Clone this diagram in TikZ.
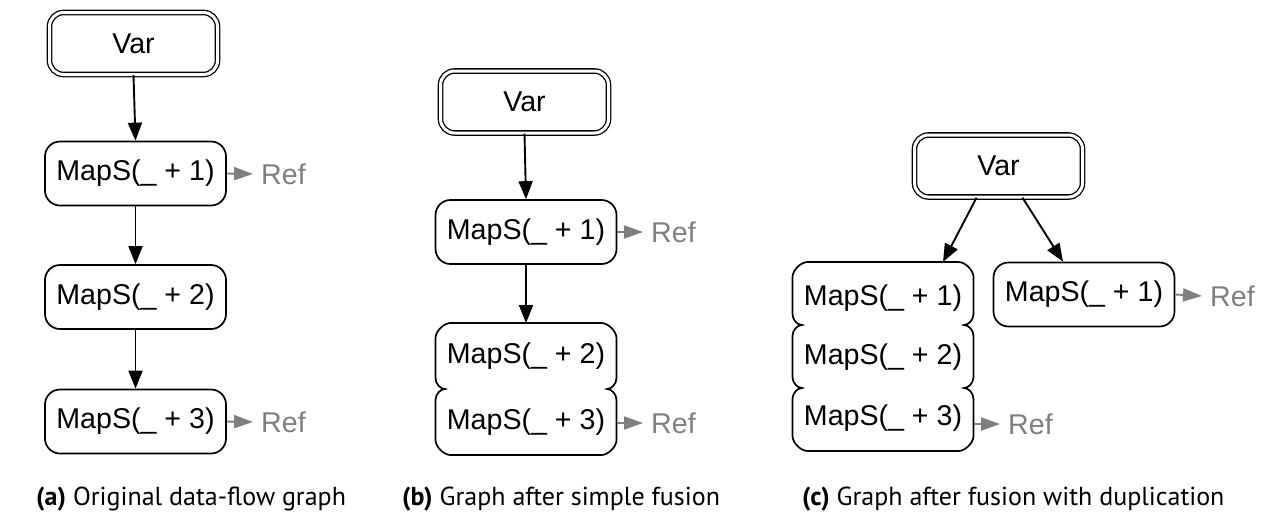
\documentclass[tikz,border=0pt]{standalone}
\usepackage{fontspec}
\setmainfont{Liberation Sans}
\newfontfamily\capfont{PT Sans}
\usetikzlibrary{arrows.meta}

\definecolor{refgray}{HTML}{7F7F7F}

\tikzset{
  nodefont/.style={font=\fontsize{28.6}{32}\selectfont},
  varbox/.style={nodefont, draw=black, double=white, double distance=3pt,
    line width=1.3pt, rounded corners=14pt, minimum width=168pt,
    minimum height=62pt, inner sep=0pt},
  mapbox/.style={nodefont, draw=black, line width=1.7pt, rounded corners=15pt,
    minimum width=181pt, minimum height=64pt, inner sep=0pt},
  maptext/.style={nodefont, inner sep=0pt},
  stackarea/.style={draw=none, inner sep=0pt, outer sep=0pt, minimum width=181pt},
  outline/.style={draw=black, line width=1.7pt},
  arr/.style={line width=1.9pt, -{Triangle[length=18pt,width=14pt]}},
  refarr/.style={draw=refgray, line width=1.9pt, -{Triangle[length=19pt,width=13pt]}},
  reftext/.style={nodefont, text=refgray, anchor=west, inner sep=0pt},
  caption/.style={font=\capfont\fontsize{26}{30}\selectfont, anchor=base west, inner sep=0pt}
}

\begin{document}
\begin{tikzpicture}[x=1pt, y=-1pt]
\useasboundingbox (0,0) rectangle (1268,515);

% ---------- (a) original data-flow graph ----------
\node[varbox] (va) at (133.5,43.5) {Var};
\node[mapbox] (a1) at (135.5,173.5) {MapS(\_ + 1)};
\node[mapbox] (a2) at (135.5,297) {MapS(\_ + 2)};
\node[mapbox] (a3) at (135.5,421.5) {MapS(\_ + 3)};
\draw[arr] (va.south) -- (a1.north);
\draw[arr] (a1.south) -- (a2.north);
\draw[arr] (a2.south) -- (a3.north);
\node[reftext] (ra1) at (261,174) {Ref};
\node[reftext] (ra3) at (261,422) {Ref};
\draw[refarr] (a1.east) -- ([xshift=-8pt]ra1.west);
\draw[refarr] (a3.east) -- ([xshift=-8pt]ra3.west);

% ---------- (b) after simple fusion ----------
\node[varbox] (vb) at (524.5,102) {Var};
\node[mapbox] (b1) at (526,232) {MapS(\_ + 1)};
% fused pair: one outline, notched where the two parts meet
\draw[outline]
  (450.5,323) -- (601.5,323)
  .. controls (608.2,323) and (616.5,331.3) .. (616.5,338)
  -- (616.5,378)
  .. controls (616.5,384) and (611.5,389) .. (607,389)
  .. controls (611.5,389) and (616.5,394) .. (616.5,400)
  -- (616.5,440)
  .. controls (616.5,446.7) and (608.2,455) .. (601.5,455)
  -- (450.5,455)
  .. controls (443.8,455) and (435.5,446.7) .. (435.5,440)
  -- (435.5,400)
  .. controls (435.5,394) and (440.5,389) .. (445,389)
  .. controls (440.5,389) and (435.5,384) .. (435.5,378)
  -- (435.5,338)
  .. controls (435.5,331.3) and (443.8,323) .. (450.5,323) -- cycle;
\node[stackarea, minimum height=132pt] (bs) at (526,389) {};
\node[maptext] (b2) at (526,356) {MapS(\_ + 2)};
\node[maptext] (b3) at (526,422) {MapS(\_ + 3)};
\draw[arr] (vb.south) -- (b1.north);
\draw[arr] (b1.south) -- (bs.north);
\node[reftext] (rb1) at (651,232) {Ref};
\node[reftext] (rb3) at (651,423) {Ref};
\draw[refarr] (b1.east) -- ([xshift=-8pt]rb1.west);
\draw[refarr] (616.5,423) -- ([xshift=-8pt]rb3.west);

% ---------- (c) after fusion with duplication ----------
\node[varbox] (vc) at (998.5,166) {Var};
\draw[outline]
  (807.5,262) -- (958.5,262)
  .. controls (965.2,262) and (973.5,270.3) .. (973.5,277)
  -- (973.5,314)
  .. controls (973.5,320) and (968.5,325) .. (964,325)
  .. controls (968.5,325) and (973.5,330) .. (973.5,336)
  -- (973.5,377)
  .. controls (973.5,383) and (968.5,388) .. (964,388)
  .. controls (968.5,388) and (973.5,393) .. (973.5,399)
  -- (973.5,436)
  .. controls (973.5,442.7) and (965.2,451) .. (958.5,451)
  -- (807.5,451)
  .. controls (800.8,451) and (792.5,442.7) .. (792.5,436)
  -- (792.5,399)
  .. controls (792.5,393) and (797.5,388) .. (802,388)
  .. controls (797.5,388) and (792.5,383) .. (792.5,377)
  -- (792.5,336)
  .. controls (792.5,330) and (797.5,325) .. (802,325)
  .. controls (797.5,325) and (792.5,320) .. (792.5,314)
  -- (792.5,277)
  .. controls (792.5,270.3) and (800.8,262) .. (807.5,262) -- cycle;
\node[stackarea, minimum height=189pt] (cs) at (883,356.5) {};
\node[maptext] (c1) at (883,298.5) {MapS(\_ + 1)};
\node[maptext] (c2) at (883,357) {MapS(\_ + 2)};
\node[maptext] (c3) at (883,418) {MapS(\_ + 3)};
\node[mapbox] (cd) at (1084,294.5) {MapS(\_ + 1)};
\draw[arr] ([xshift=-22pt]vc.south) -- ([xshift=60pt]cs.north);
\draw[arr] ([xshift=24pt]vc.south) -- ([xshift=-21pt]cd.north);
\node[reftext] (rcd) at (1210,296) {Ref};
\node[reftext] (rc3) at (1008,424) {Ref};
\draw[refarr] (cd.east) -- ([xshift=-8pt]rcd.west);
\draw[refarr] (973.5,424) -- ([xshift=-8pt]rc3.west);

% ---------- captions ----------
\node[caption] (capa) at (36,505) {\textbf{(a)} Original data-flow graph};
\node[caption] (capb) at (402,505) {\textbf{(b)} Graph after simple fusion};
\node[caption] (capc) at (802,505) {\textbf{(c)} Graph after fusion with duplication};
\end{tikzpicture}
\end{document}
